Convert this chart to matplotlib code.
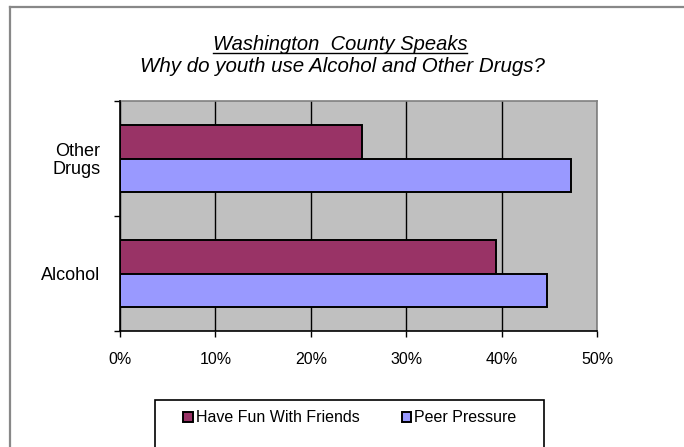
import numpy as np
import matplotlib.pyplot as plt
from matplotlib.patches import Patch, Rectangle
from matplotlib.lines import Line2D
from matplotlib.ticker import FixedLocator, PercentFormatter

plt.rcParams['font.family'] = ['Liberation Sans', 'DejaVu Sans']

categories = ['Alcohol', 'Other\nDrugs']
series_names = ['Have Fun With Friends', 'Peer Pressure']
fun_values = [39.4, 25.4]
peer_values = [44.8, 47.3]
x_ticks = [0, 10, 20, 30, 40, 50]

W, H = 684, 447
fig = plt.figure(figsize=(W / 100, H / 100), dpi=100)


def fx(px):
    return px / W


def fy(py):
    return 1 - py / H


# outer chart border (only left and top visible in the crop)
fig.add_artist(Line2D([fx(10), fx(10)], [fy(7), 0], color='#888888', lw=1.6))
fig.add_artist(Line2D([fx(10), 1], [fy(7), fy(7)], color='#888888', lw=1.6))

ax = fig.add_axes([fx(120), fy(331), fx(597) - fx(120), fy(101) - fy(331)])
ax.set_facecolor('#C0C0C0')

y = np.arange(len(categories))
h = 0.287
ax.barh(y + h / 2, fun_values, height=h, color='#993366', edgecolor='black',
        linewidth=1.4, zorder=3, label=series_names[0])
ax.barh(y - h / 2, peer_values, height=h, color='#9999FF', edgecolor='black',
        linewidth=1.4, zorder=3, label=series_names[1])

ax.set_xlim(0, 50)
ax.set_ylim(-0.5, len(categories) - 0.5)
ax.set_xticks(x_ticks)
ax.xaxis.set_major_formatter(PercentFormatter(decimals=0))
ax.grid(axis='x', color='black', lw=1, zorder=1)

ax.set_yticks(y)
ax.set_yticklabels(categories, ha='right', multialignment='right',
                   linespacing=1.0)
ax.yaxis.set_minor_locator(FixedLocator([-0.5, 0.5, 1.5]))
ax.tick_params(axis='y', which='major', length=0, pad=14, labelsize=13)
ax.tick_params(axis='y', which='minor', direction='out', length=4, width=1)
ax.tick_params(axis='x', direction='out', length=4, width=1, pad=11,
               labelsize=11.5)

for s in ['left', 'bottom']:
    ax.spines[s].set_color('black')
    ax.spines[s].set_linewidth(1.2)
    ax.spines[s].set_zorder(4)
for s in ['top', 'right']:
    ax.spines[s].set_color('#808080')
    ax.spines[s].set_linewidth(1.2)

# title, first line underlined
t1 = fig.text(fx(340), fy(45), 'Washington  County Speaks', ha='center',
              va='center', fontsize=14.5, style='italic')
fig.text(fx(342), fy(67), 'Why do youth use Alcohol and Other Drugs?',
         ha='center', va='center', fontsize=14.8, style='italic')
fig.canvas.draw()
bb = t1.get_window_extent()
fig.add_artist(Line2D([bb.x0 / W, bb.x1 / W], [fy(52.5), fy(52.5)],
                      color='black', lw=1))

# legend box, cut off by the bottom edge
fig.add_artist(Rectangle((fx(155), -0.05), fx(544) - fx(155), fy(400) + 0.05,
                         facecolor='white', edgecolor='black', lw=1.2))
handles = [Patch(facecolor='#993366', edgecolor='black', lw=1.4),
           Patch(facecolor='#9999FF', edgecolor='black', lw=1.4)]
fig.legend(handles, series_names, ncol=2, frameon=False, fontsize=11.5,
           loc='center', bbox_to_anchor=(fx(350), fy(418)),
           handlelength=0.6, handleheight=0.6, handletextpad=0.2,
           columnspacing=2.6)

fig.savefig('out.png', dpi=100)
